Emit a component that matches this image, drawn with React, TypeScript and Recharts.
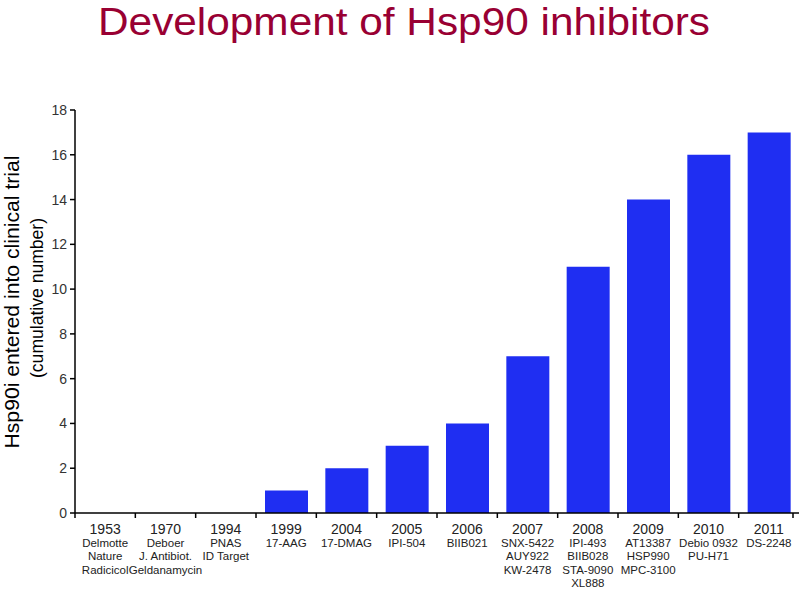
import React from "react";
import { BarChart, Bar, XAxis, YAxis } from "recharts";

const years = ["1953", "1970", "1994", "1999", "2004", "2005", "2006", "2007", "2008", "2009", "2010", "2011"];
const counts = [0, 0, 0, 1, 2, 3, 4, 7, 11, 14, 16, 17];
const drugLabels: string[][] = [
  ["Delmotte", "Nature", "Radicicol"],
  ["Deboer", "J. Antibiot.", "Geldanamycin"],
  ["PNAS", "ID Target"],
  ["17-AAG"],
  ["17-DMAG"],
  ["IPI-504"],
  ["BIIB021"],
  ["SNX-5422", "AUY922", "KW-2478"],
  ["IPI-493", "BIIB028", "STA-9090", "XL888"],
  ["AT13387", "HSP990", "MPC-3100"],
  ["Debio 0932", "PU-H71"],
  ["DS-2248"],
];
const yTicks = [0, 2, 4, 6, 8, 10, 12, 14, 16, 18];

const data = years.map((y, i) => ({ year: y, count: counts[i] }));

const W = 800;
const H = 590;
const LEFT = 75;
const RIGHT = 1;
const TOP = 110;
const BOTTOM = 77;
const BW = (W - LEFT - RIGHT) / years.length;
const FONT = "'Liberation Sans', Arial, sans-serif";

const XTick = (props: any) => {
  const { x, y, payload } = props;
  const i = years.indexOf(String(payload.value));
  const lines = drugLabels[i] || [];
  const isLast = i === years.length - 1;
  return (
    <g>
      <line x1={x - BW / 2} x2={x - BW / 2} y1={y} y2={y + 5} stroke="#000" strokeWidth={1.5} />
      {isLast && <line x1={x + BW / 2 - 6} x2={x + BW / 2 - 6} y1={y} y2={y + 5} stroke="#000" strokeWidth={1.5} />}
      <text x={x} y={y + 21} textAnchor="middle" fontSize={14} fill="#222" fontFamily={FONT}>
        {payload.value}
      </text>
      {lines.map((l, k) => (
        <text key={k} x={x} y={y + 34 + k * 13.4} textAnchor="middle" fontSize={11.5} fill="#222" fontFamily={FONT}>
          {l}
        </text>
      ))}
    </g>
  );
};

const YLabel = () => {
  return (
    <g>
      <text
        transform={`translate(19, 302) rotate(-90)`}
        textAnchor="middle"
        fontSize={20.5}
        fill="#000"
        fontFamily={FONT}
        textLength={293}
        lengthAdjust="spacingAndGlyphs"
      >
        Hsp90i entered into clinical trial
      </text>
      <text
        transform={`translate(43, 298) rotate(-90)`}
        textAnchor="middle"
        fontSize={18}
        fill="#000"
        fontFamily={FONT}
        textLength={160}
        lengthAdjust="spacingAndGlyphs"
      >
        (cumulative number)
      </text>
    </g>
  );
};

export default function App() {
  return (
    <div style={{ position: "absolute", left: 0, top: 0, width: W, height: H, background: "#fff" }}>
      <div style={{ position: "absolute", left: 0, top: 0 }}>
        <BarChart width={W} height={H} data={data} margin={{ top: TOP, right: RIGHT, bottom: 0, left: 0 }}>
          <text
            x={404}
            y={35}
            textAnchor="middle"
            fontSize={38.5}
            fill="#990033"
            fontFamily={FONT}
            textLength={612}
            lengthAdjust="spacingAndGlyphs"
          >
            Development of Hsp90 inhibitors
          </text>
          <XAxis
            dataKey="year"
            height={BOTTOM}
            tickLine={false}
            tickSize={0}
            tickMargin={0}
            axisLine={{ stroke: "#000", strokeWidth: 1.5 }}
            tick={<XTick />}
            interval={0}
          />
          <YAxis
            width={LEFT}
            domain={[0, 18]}
            ticks={yTicks}
            interval={0}
            tick={{ fontSize: 14, fill: "#333", fontFamily: FONT }}
            tickSize={5}
            tickMargin={3}
            tickLine={{ stroke: "#000", strokeWidth: 1.5 }}
            axisLine={{ stroke: "#000", strokeWidth: 1.5 }}
            label={<YLabel />}
          />
          <Bar dataKey="count" fill="#1F2EF2" barSize={43} isAnimationActive={false} />
        </BarChart>
      </div>
    </div>
  );
}
